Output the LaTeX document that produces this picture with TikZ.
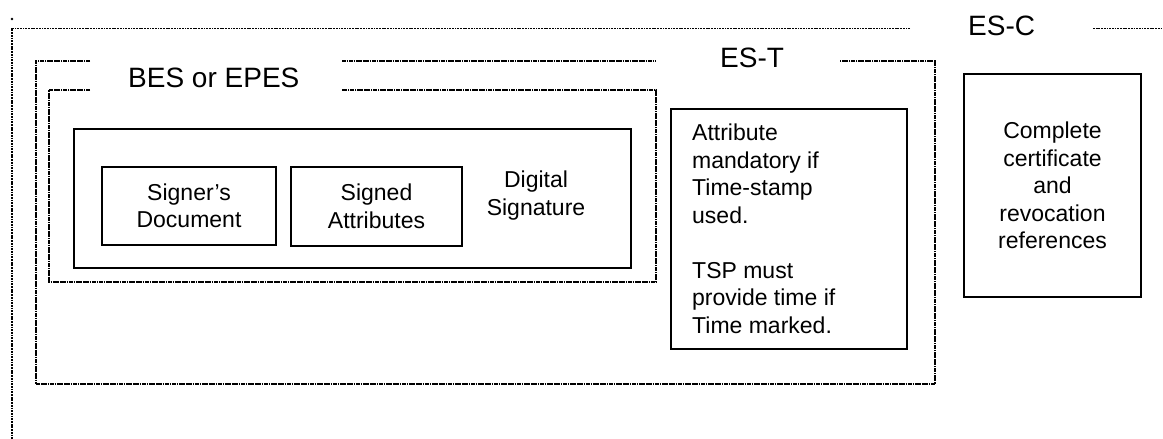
\documentclass[tikz,border=0pt]{standalone}
\usepackage{fontspec}
\setmainfont{Liberation Sans}
\begin{document}
\begin{tikzpicture}[x=1pt,y=-1pt,
  solidbox/.style={draw=black, line width=1.3pt, rectangle, inner sep=0pt},
  escframe/.style={draw=black, line width=1.8pt, dash pattern=on 1.8pt off 0.9pt},
  estframe/.style={draw=black, line width=1.5pt, dash pattern=on 1.8pt off 0.5pt},
  bodytext/.style={font=\fontsize{23}{27.5}\selectfont, inner sep=0pt},
  headtext/.style={font=\fontsize{28}{32}\selectfont, inner sep=0pt, anchor=base west}]
\useasboundingbox (0,0) rectangle (1163,439);
% ES-C frame
\coordinate (escdot) at (12,19);
\fill (escdot) circle (1.4pt);
\draw[escframe] (910,28.5) -- (12,28.5) -- (12,439);
\draw[escframe] (1093,28.5) -- (1163,28.5);
\node[headtext] (esclabel) at (968,35) {ES-C};
% ES-T frame
\draw[estframe] (90,61) -- (36,61) -- (36,384) -- (935,384) -- (935,61) -- (840,61);
\draw[estframe] (342,61) -- (655,61);
\node[headtext] (estlabel) at (720,67) {ES-T};
% BES frame
\draw[estframe] (90,90) -- (49,90) -- (49,282) -- (656,282) -- (656,90) -- (342,90);
\node[headtext] (beslabel) at (128,87) {BES or EPES};
% inner signature box
\node[solidbox, minimum width=557pt, minimum height=139pt] (sigbox) at (352.5,198.5) {};
\node[solidbox, bodytext, align=center, minimum width=174pt, minimum height=78pt] (signer) at (189,206) {Signer’s\\Document};
\node[solidbox, bodytext, align=center, minimum width=171pt, minimum height=79pt] (signed) at (376.5,206.5) {Signed\\Attributes};
\node[bodytext, align=center, anchor=base] (digsig) at (536,215) {Digital\\Signature};
% ES-T attribute box
\node[solidbox, minimum width=236pt, minimum height=240pt] (attrbox) at (789,229) {};
\node[bodytext, align=left, anchor=north west] (attrtext) at (692,124) {Attribute\\mandatory if\\Time-stamp\\used.\\[27.5pt]TSP must\\provide time if\\Time marked.};
% ES-C box
\node[solidbox, bodytext, align=center, minimum width=177pt, minimum height=223pt] (compbox) at (1052.5,185.5) {Complete\\certificate\\and\\revocation\\references};
\end{tikzpicture}
\end{document}
